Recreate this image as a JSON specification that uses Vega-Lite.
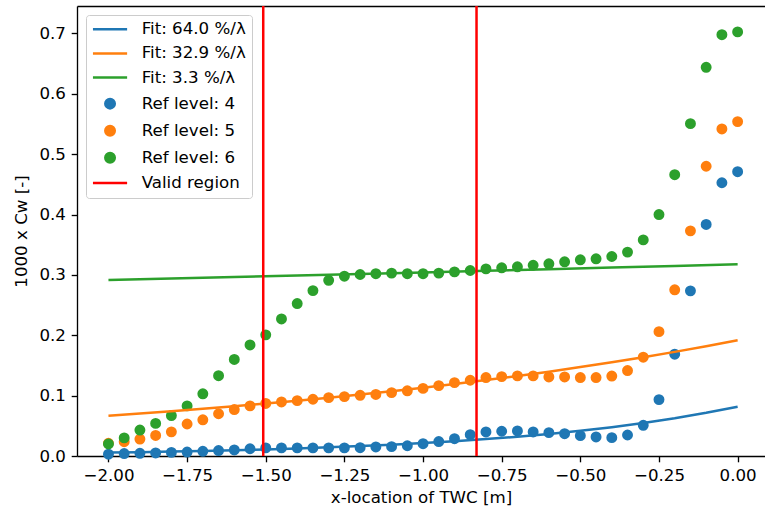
{
  "$schema": "https://vega.github.io/schema/vega-lite/v6.json",
  "autosize": {"type": "none"},
  "padding": {"left": 77, "top": 6, "right": 0, "bottom": 57},
  "width": 688,
  "height": 450,
  "background": "white",
  "config": {
    "view": {"stroke": null},
    "font": "DejaVu Sans",
    "axis": {
      "grid": false,
      "domainColor": "#000000",
      "domainWidth": 1.33,
      "tickColor": "#000000",
      "tickWidth": 1.33,
      "tickSize": 5.8,
      "labelPadding": 5.8,
      "labelFont": "DejaVu Sans",
      "labelFontSize": 16.67,
      "labelColor": "#000000",
      "labelFlush": false,
      "labelOverlap": false,
      "titleFont": "DejaVu Sans",
      "titleFontSize": 16.67,
      "titleFontWeight": "normal",
      "titleColor": "#000000"
    },
    "legend": {
      "title": null,
      "orient": "top-left",
      "offset": 9,
      "padding": 6,
      "rowPadding": 6.1,
      "symbolOffset": 9.7,
      "labelOffset": 23.3,
      "labelFont": "DejaVu Sans",
      "labelFontSize": 16.67,
      "labelColor": "#000000",
      "fillColor": "rgba(255,255,255,0.8)",
      "strokeColor": "#cccccc",
      "cornerRadius": 3,
      "symbolSize": 90,
      "symbolStrokeWidth": 2.5
    }
  },
  "datasets": {
    "refs": [
      {"x": -2.0, "cw": 0.003, "series": "Ref level: 4"},
      {"x": -1.95, "cw": 0.004, "series": "Ref level: 4"},
      {"x": -1.9, "cw": 0.0045, "series": "Ref level: 4"},
      {"x": -1.85, "cw": 0.005, "series": "Ref level: 4"},
      {"x": -1.8, "cw": 0.006, "series": "Ref level: 4"},
      {"x": -1.75, "cw": 0.0066, "series": "Ref level: 4"},
      {"x": -1.7, "cw": 0.0078, "series": "Ref level: 4"},
      {"x": -1.65, "cw": 0.009, "series": "Ref level: 4"},
      {"x": -1.6, "cw": 0.01, "series": "Ref level: 4"},
      {"x": -1.55, "cw": 0.012, "series": "Ref level: 4"},
      {"x": -1.5, "cw": 0.0135, "series": "Ref level: 4"},
      {"x": -1.45, "cw": 0.0135, "series": "Ref level: 4"},
      {"x": -1.4, "cw": 0.0135, "series": "Ref level: 4"},
      {"x": -1.35, "cw": 0.0135, "series": "Ref level: 4"},
      {"x": -1.3, "cw": 0.0135, "series": "Ref level: 4"},
      {"x": -1.25, "cw": 0.0135, "series": "Ref level: 4"},
      {"x": -1.2, "cw": 0.0138, "series": "Ref level: 4"},
      {"x": -1.15, "cw": 0.015, "series": "Ref level: 4"},
      {"x": -1.1, "cw": 0.0155, "series": "Ref level: 4"},
      {"x": -1.05, "cw": 0.017, "series": "Ref level: 4"},
      {"x": -1.0, "cw": 0.0204, "series": "Ref level: 4"},
      {"x": -0.95, "cw": 0.024, "series": "Ref level: 4"},
      {"x": -0.9, "cw": 0.0287, "series": "Ref level: 4"},
      {"x": -0.85, "cw": 0.0354, "series": "Ref level: 4"},
      {"x": -0.8, "cw": 0.0398, "series": "Ref level: 4"},
      {"x": -0.75, "cw": 0.041, "series": "Ref level: 4"},
      {"x": -0.7, "cw": 0.0415, "series": "Ref level: 4"},
      {"x": -0.65, "cw": 0.0398, "series": "Ref level: 4"},
      {"x": -0.6, "cw": 0.0387, "series": "Ref level: 4"},
      {"x": -0.55, "cw": 0.037, "series": "Ref level: 4"},
      {"x": -0.5, "cw": 0.0337, "series": "Ref level: 4"},
      {"x": -0.45, "cw": 0.0315, "series": "Ref level: 4"},
      {"x": -0.4, "cw": 0.0304, "series": "Ref level: 4"},
      {"x": -0.35, "cw": 0.0348, "series": "Ref level: 4"},
      {"x": -0.3, "cw": 0.0508, "series": "Ref level: 4"},
      {"x": -0.25, "cw": 0.0934, "series": "Ref level: 4"},
      {"x": -0.2, "cw": 0.1686, "series": "Ref level: 4"},
      {"x": -0.15, "cw": 0.2736, "series": "Ref level: 4"},
      {"x": -0.1, "cw": 0.3836, "series": "Ref level: 4"},
      {"x": -0.05, "cw": 0.4527, "series": "Ref level: 4"},
      {"x": 0.0, "cw": 0.471, "series": "Ref level: 4"},
      {"x": -2.0, "cw": 0.021, "series": "Ref level: 5"},
      {"x": -1.95, "cw": 0.0237, "series": "Ref level: 5"},
      {"x": -1.9, "cw": 0.028, "series": "Ref level: 5"},
      {"x": -1.85, "cw": 0.034, "series": "Ref level: 5"},
      {"x": -1.8, "cw": 0.04, "series": "Ref level: 5"},
      {"x": -1.75, "cw": 0.053, "series": "Ref level: 5"},
      {"x": -1.7, "cw": 0.06, "series": "Ref level: 5"},
      {"x": -1.65, "cw": 0.07, "series": "Ref level: 5"},
      {"x": -1.6, "cw": 0.077, "series": "Ref level: 5"},
      {"x": -1.55, "cw": 0.083, "series": "Ref level: 5"},
      {"x": -1.5, "cw": 0.087, "series": "Ref level: 5"},
      {"x": -1.45, "cw": 0.0896, "series": "Ref level: 5"},
      {"x": -1.4, "cw": 0.0917, "series": "Ref level: 5"},
      {"x": -1.35, "cw": 0.094, "series": "Ref level: 5"},
      {"x": -1.3, "cw": 0.0967, "series": "Ref level: 5"},
      {"x": -1.25, "cw": 0.0984, "series": "Ref level: 5"},
      {"x": -1.2, "cw": 0.1006, "series": "Ref level: 5"},
      {"x": -1.15, "cw": 0.102, "series": "Ref level: 5"},
      {"x": -1.1, "cw": 0.105, "series": "Ref level: 5"},
      {"x": -1.05, "cw": 0.108, "series": "Ref level: 5"},
      {"x": -1.0, "cw": 0.112, "series": "Ref level: 5"},
      {"x": -0.95, "cw": 0.1166, "series": "Ref level: 5"},
      {"x": -0.9, "cw": 0.1216, "series": "Ref level: 5"},
      {"x": -0.85, "cw": 0.1255, "series": "Ref level: 5"},
      {"x": -0.8, "cw": 0.13, "series": "Ref level: 5"},
      {"x": -0.75, "cw": 0.1315, "series": "Ref level: 5"},
      {"x": -0.7, "cw": 0.1327, "series": "Ref level: 5"},
      {"x": -0.65, "cw": 0.1327, "series": "Ref level: 5"},
      {"x": -0.6, "cw": 0.131, "series": "Ref level: 5"},
      {"x": -0.55, "cw": 0.131, "series": "Ref level: 5"},
      {"x": -0.5, "cw": 0.13, "series": "Ref level: 5"},
      {"x": -0.45, "cw": 0.13, "series": "Ref level: 5"},
      {"x": -0.4, "cw": 0.1325, "series": "Ref level: 5"},
      {"x": -0.35, "cw": 0.1415, "series": "Ref level: 5"},
      {"x": -0.3, "cw": 0.1637, "series": "Ref level: 5"},
      {"x": -0.25, "cw": 0.206, "series": "Ref level: 5"},
      {"x": -0.2, "cw": 0.2753, "series": "Ref level: 5"},
      {"x": -0.15, "cw": 0.373, "series": "Ref level: 5"},
      {"x": -0.1, "cw": 0.48, "series": "Ref level: 5"},
      {"x": -0.05, "cw": 0.5418, "series": "Ref level: 5"},
      {"x": 0.0, "cw": 0.554, "series": "Ref level: 5"},
      {"x": -2.0, "cw": 0.02, "series": "Ref level: 6"},
      {"x": -1.95, "cw": 0.03, "series": "Ref level: 6"},
      {"x": -1.9, "cw": 0.043, "series": "Ref level: 6"},
      {"x": -1.85, "cw": 0.054, "series": "Ref level: 6"},
      {"x": -1.8, "cw": 0.067, "series": "Ref level: 6"},
      {"x": -1.75, "cw": 0.083, "series": "Ref level: 6"},
      {"x": -1.7, "cw": 0.103, "series": "Ref level: 6"},
      {"x": -1.65, "cw": 0.133, "series": "Ref level: 6"},
      {"x": -1.6, "cw": 0.16, "series": "Ref level: 6"},
      {"x": -1.55, "cw": 0.184, "series": "Ref level: 6"},
      {"x": -1.5, "cw": 0.2007, "series": "Ref level: 6"},
      {"x": -1.45, "cw": 0.227, "series": "Ref level: 6"},
      {"x": -1.4, "cw": 0.2526, "series": "Ref level: 6"},
      {"x": -1.35, "cw": 0.274, "series": "Ref level: 6"},
      {"x": -1.3, "cw": 0.291, "series": "Ref level: 6"},
      {"x": -1.25, "cw": 0.2979, "series": "Ref level: 6"},
      {"x": -1.2, "cw": 0.3007, "series": "Ref level: 6"},
      {"x": -1.15, "cw": 0.302, "series": "Ref level: 6"},
      {"x": -1.1, "cw": 0.303, "series": "Ref level: 6"},
      {"x": -1.05, "cw": 0.302, "series": "Ref level: 6"},
      {"x": -1.0, "cw": 0.302, "series": "Ref level: 6"},
      {"x": -0.95, "cw": 0.303, "series": "Ref level: 6"},
      {"x": -0.9, "cw": 0.305, "series": "Ref level: 6"},
      {"x": -0.85, "cw": 0.3073, "series": "Ref level: 6"},
      {"x": -0.8, "cw": 0.31, "series": "Ref level: 6"},
      {"x": -0.75, "cw": 0.3118, "series": "Ref level: 6"},
      {"x": -0.7, "cw": 0.3134, "series": "Ref level: 6"},
      {"x": -0.65, "cw": 0.316, "series": "Ref level: 6"},
      {"x": -0.6, "cw": 0.3184, "series": "Ref level: 6"},
      {"x": -0.55, "cw": 0.3217, "series": "Ref level: 6"},
      {"x": -0.5, "cw": 0.325, "series": "Ref level: 6"},
      {"x": -0.45, "cw": 0.3267, "series": "Ref level: 6"},
      {"x": -0.4, "cw": 0.3305, "series": "Ref level: 6"},
      {"x": -0.35, "cw": 0.3378, "series": "Ref level: 6"},
      {"x": -0.3, "cw": 0.358, "series": "Ref level: 6"},
      {"x": -0.25, "cw": 0.4, "series": "Ref level: 6"},
      {"x": -0.2, "cw": 0.466, "series": "Ref level: 6"},
      {"x": -0.15, "cw": 0.5506, "series": "Ref level: 6"},
      {"x": -0.1, "cw": 0.644, "series": "Ref level: 6"},
      {"x": -0.05, "cw": 0.698, "series": "Ref level: 6"},
      {"x": 0.0, "cw": 0.7026, "series": "Ref level: 6"}
    ],
    "fits": [
      {"x": -2.0, "cw": 0.0056, "series": "Fit: 64.0 %/λ"},
      {"x": -1.9, "cw": 0.0064, "series": "Fit: 64.0 %/λ"},
      {"x": -1.8, "cw": 0.0073, "series": "Fit: 64.0 %/λ"},
      {"x": -1.7, "cw": 0.0084, "series": "Fit: 64.0 %/λ"},
      {"x": -1.6, "cw": 0.0096, "series": "Fit: 64.0 %/λ"},
      {"x": -1.5, "cw": 0.0109, "series": "Fit: 64.0 %/λ"},
      {"x": -1.4, "cw": 0.0125, "series": "Fit: 64.0 %/λ"},
      {"x": -1.3, "cw": 0.0143, "series": "Fit: 64.0 %/λ"},
      {"x": -1.2, "cw": 0.0164, "series": "Fit: 64.0 %/λ"},
      {"x": -1.1, "cw": 0.0187, "series": "Fit: 64.0 %/λ"},
      {"x": -1.0, "cw": 0.0214, "series": "Fit: 64.0 %/λ"},
      {"x": -0.9, "cw": 0.0245, "series": "Fit: 64.0 %/λ"},
      {"x": -0.8, "cw": 0.028, "series": "Fit: 64.0 %/λ"},
      {"x": -0.7, "cw": 0.032, "series": "Fit: 64.0 %/λ"},
      {"x": -0.6, "cw": 0.0366, "series": "Fit: 64.0 %/λ"},
      {"x": -0.5, "cw": 0.0418, "series": "Fit: 64.0 %/λ"},
      {"x": -0.4, "cw": 0.0478, "series": "Fit: 64.0 %/λ"},
      {"x": -0.3, "cw": 0.0547, "series": "Fit: 64.0 %/λ"},
      {"x": -0.2, "cw": 0.0625, "series": "Fit: 64.0 %/λ"},
      {"x": -0.1, "cw": 0.0715, "series": "Fit: 64.0 %/λ"},
      {"x": 0.0, "cw": 0.0817, "series": "Fit: 64.0 %/λ"},
      {"x": -2.0, "cw": 0.0668, "series": "Fit: 32.9 %/λ"},
      {"x": -1.9, "cw": 0.0704, "series": "Fit: 32.9 %/λ"},
      {"x": -1.8, "cw": 0.0742, "series": "Fit: 32.9 %/λ"},
      {"x": -1.7, "cw": 0.0783, "series": "Fit: 32.9 %/λ"},
      {"x": -1.6, "cw": 0.0825, "series": "Fit: 32.9 %/λ"},
      {"x": -1.5, "cw": 0.087, "series": "Fit: 32.9 %/λ"},
      {"x": -1.4, "cw": 0.0917, "series": "Fit: 32.9 %/λ"},
      {"x": -1.3, "cw": 0.0966, "series": "Fit: 32.9 %/λ"},
      {"x": -1.2, "cw": 0.1019, "series": "Fit: 32.9 %/λ"},
      {"x": -1.1, "cw": 0.1074, "series": "Fit: 32.9 %/λ"},
      {"x": -1.0, "cw": 0.1132, "series": "Fit: 32.9 %/λ"},
      {"x": -0.9, "cw": 0.1193, "series": "Fit: 32.9 %/λ"},
      {"x": -0.8, "cw": 0.1258, "series": "Fit: 32.9 %/λ"},
      {"x": -0.7, "cw": 0.1326, "series": "Fit: 32.9 %/λ"},
      {"x": -0.6, "cw": 0.1397, "series": "Fit: 32.9 %/λ"},
      {"x": -0.5, "cw": 0.1473, "series": "Fit: 32.9 %/λ"},
      {"x": -0.4, "cw": 0.1553, "series": "Fit: 32.9 %/λ"},
      {"x": -0.3, "cw": 0.1637, "series": "Fit: 32.9 %/λ"},
      {"x": -0.2, "cw": 0.1725, "series": "Fit: 32.9 %/λ"},
      {"x": -0.1, "cw": 0.1819, "series": "Fit: 32.9 %/λ"},
      {"x": 0.0, "cw": 0.1917, "series": "Fit: 32.9 %/λ"},
      {"x": -2.0, "cw": 0.2915, "series": "Fit: 3.3 %/λ"},
      {"x": -1.8, "cw": 0.294, "series": "Fit: 3.3 %/λ"},
      {"x": -1.6, "cw": 0.2965, "series": "Fit: 3.3 %/λ"},
      {"x": -1.4, "cw": 0.299, "series": "Fit: 3.3 %/λ"},
      {"x": -1.2, "cw": 0.3016, "series": "Fit: 3.3 %/λ"},
      {"x": -1.0, "cw": 0.3042, "series": "Fit: 3.3 %/λ"},
      {"x": -0.8, "cw": 0.3068, "series": "Fit: 3.3 %/λ"},
      {"x": -0.6, "cw": 0.3095, "series": "Fit: 3.3 %/λ"},
      {"x": -0.4, "cw": 0.3121, "series": "Fit: 3.3 %/λ"},
      {"x": -0.2, "cw": 0.3148, "series": "Fit: 3.3 %/λ"},
      {"x": 0.0, "cw": 0.3175, "series": "Fit: 3.3 %/λ"}
    ],
    "valid": [
      {"x": -1.508, "series": "Valid region"},
      {"x": -0.83, "series": "Valid region"}
    ]
  },
  "resolve": {"axis": {"x": "independent"}},
  "layer": [
    {
      "data": {"name": "refs"},
      "mark": {"type": "point", "filled": true, "size": 71, "opacity": 1, "strokeWidth": 2.5},
      "encoding": {
        "x": {
          "field": "x", "type": "quantitative",
          "scale": {"domain": [-2.1, 0.087], "nice": false, "zero": false},
          "axis": {
            "title": "x-location of TWC [m]",
            "values": [-2, -1.75, -1.5, -1.25, -1, -0.75, -0.5, -0.25, 0],
            "format": ".2f",
            "titlePadding": 5
          }
        },
        "y": {
          "field": "cw", "type": "quantitative",
          "title": "1000 x Cw [-]",
          "scale": {"domain": [0, 0.7455], "nice": false, "zero": false},
          "axis": {
            "values": [0, 0.1, 0.2, 0.3, 0.4, 0.5, 0.6, 0.7],
            "format": ".1f",
            "titlePadding": 8
          }
        },
        "color": {
          "field": "series", "type": "nominal",
          "scale": {
            "domain": ["Fit: 64.0 %/λ", "Fit: 32.9 %/λ", "Fit: 3.3 %/λ", "Ref level: 4", "Ref level: 5", "Ref level: 6", "Valid region"],
            "range": ["#1f77b4", "#ff7f0e", "#2ca02c", "#1f77b4", "#ff7f0e", "#2ca02c", "#ff0000"]
          },
          "legend": {"title": null, "orient": "top-left"}
        },
        "stroke": {
          "field": "series", "type": "nominal",
          "scale": {
            "domain": ["Fit: 64.0 %/λ", "Fit: 32.9 %/λ", "Fit: 3.3 %/λ", "Ref level: 4", "Ref level: 5", "Ref level: 6", "Valid region"],
            "range": ["#1f77b4", "#ff7f0e", "#2ca02c", "#1f77b4", "#ff7f0e", "#2ca02c", "#ff0000"]
          },
          "legend": {"title": null, "orient": "top-left"}
        },
        "shape": {
          "field": "series", "type": "nominal",
          "scale": {
            "domain": ["Fit: 64.0 %/λ", "Fit: 32.9 %/λ", "Fit: 3.3 %/λ", "Ref level: 4", "Ref level: 5", "Ref level: 6", "Valid region"],
            "range": ["M-3.6,0H3.6", "M-3.6,0H3.6", "M-3.6,0H3.6", "circle", "circle", "circle", "M-3.6,0H3.6"]
          },
          "legend": {"title": null, "orient": "top-left"}
        }
      }
    },
    {
      "data": {"name": "fits"},
      "mark": {"type": "line", "strokeWidth": 2.5},
      "encoding": {
        "x": {
          "field": "x", "type": "quantitative",
          "scale": {"domain": [-2.1, 0.087], "nice": false, "zero": false},
          "axis": {"orient": "top", "labels": false, "ticks": false, "title": null, "domain": true}
        },
        "y": {
          "field": "cw", "type": "quantitative",
          "title": "1000 x Cw [-]",
          "scale": {"domain": [0, 0.7455], "nice": false, "zero": false}
        },
        "color": {
          "field": "series", "type": "nominal",
          "scale": {
            "domain": ["Fit: 64.0 %/λ", "Fit: 32.9 %/λ", "Fit: 3.3 %/λ", "Ref level: 4", "Ref level: 5", "Ref level: 6", "Valid region"],
            "range": ["#1f77b4", "#ff7f0e", "#2ca02c", "#1f77b4", "#ff7f0e", "#2ca02c", "#ff0000"]
          },
          "legend": null
        }
      }
    },
    {
      "data": {"name": "valid"},
      "mark": {"type": "rule", "strokeWidth": 2.5},
      "encoding": {
        "x": {
          "field": "x", "type": "quantitative",
          "scale": {"domain": [-2.1, 0.087], "nice": false, "zero": false},
          "axis": null
        },
        "color": {
          "field": "series", "type": "nominal",
          "scale": {
            "domain": ["Fit: 64.0 %/λ", "Fit: 32.9 %/λ", "Fit: 3.3 %/λ", "Ref level: 4", "Ref level: 5", "Ref level: 6", "Valid region"],
            "range": ["#1f77b4", "#ff7f0e", "#2ca02c", "#1f77b4", "#ff7f0e", "#2ca02c", "#ff0000"]
          },
          "legend": null
        }
      }
    }
  ]
}
